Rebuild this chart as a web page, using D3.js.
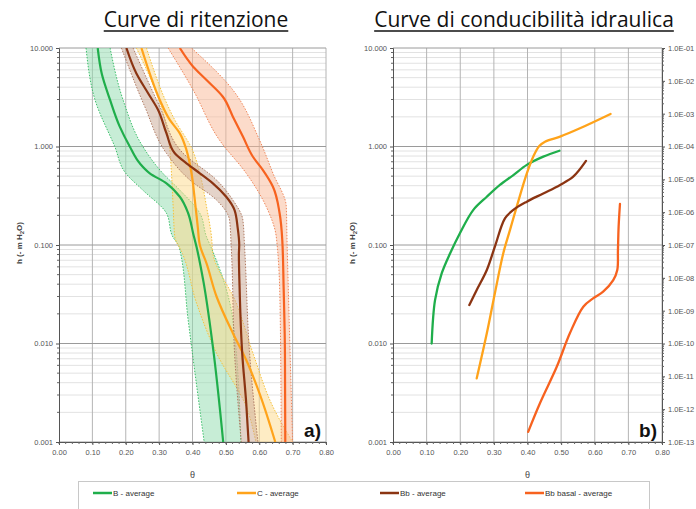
<!DOCTYPE html>
<html><head><meta charset="utf-8">
<script src="https://cdn.jsdelivr.net/npm/d3@7/dist/d3.min.js"></script>
<style>body{margin:0;background:#fff}svg{display:block}</style>
</head><body><svg id="c" width="696" height="509"></svg>
<script>
// ---------- data ----------
const titles = ["Curve di ritenzione", "Curve di conducibilità idraulica"];
const seriesNames = ["B - average", "C - average", "Bb - average", "Bb basal - average"];
const colors = ["#1fae4b", "#ffa31a", "#8b3412", "#f7621f"];
const bandFills = ["#8fdcae", "#fdd98a", "#c9a894", "#f9b896"];
const bandLines = ["#3cbf6a", "#f5c23c", "#b07a62", "#f0875a"];
const xTicks = [0, 0.1, 0.2, 0.3, 0.4, 0.5, 0.6, 0.7, 0.8];
const hTicks = [10, 1, 0.1, 0.01, 0.001];
const hTickLabels = ["10.000", "1.000", "0.100", "0.010", "0.001"];
const kTicks = [1e-1,1e-2,1e-3,1e-4,1e-5,1e-6,1e-7,1e-8,1e-9,1e-10,1e-11,1e-12,1e-13];
const kTickLabels = ["1.0E-01","1.0E-02","1.0E-03","1.0E-04","1.0E-05","1.0E-06","1.0E-07","1.0E-08","1.0E-09","1.0E-10","1.0E-11","1.0E-12","1.0E-13"];

// retention means (theta, h)
const retB_theta = [0.116,0.128,0.153,0.182,0.212,0.242,0.272,0.322,0.362,0.387,0.402,0.412,0.432,0.461,0.492];
const retB_h     = [10,5.5,2.97,1.59,1.0,0.675,0.535,0.423,0.309,0.21,0.131,0.096,0.044,0.0093,0.001];
const retC_theta = [0.247,0.272,0.302,0.332,0.362,0.382,0.397,0.407,0.416,0.422,0.442,0.472,0.521,0.561,0.601,0.648];
const retC_h     = [10,5.5,2.97,1.86,1.36,0.92,0.535,0.286,0.15,0.1,0.065,0.030,0.0127,0.0068,0.0031,0.001];
const retBb_theta = [0.202,0.232,0.267,0.297,0.322,0.347,0.382,0.422,0.461,0.501,0.526,0.535,0.540,0.539,0.541,0.549,0.561,0.568];
const retBb_h     = [10,5.5,3.47,2.35,1.36,0.853,0.675,0.535,0.423,0.309,0.226,0.153,0.1,0.08,0.0378,0.0079,0.00247,0.001];
const retBbb_theta = [0.362,0.402,0.442,0.491,0.521,0.551,0.581,0.611,0.641,0.661,0.669,0.673,0.677,0.678];
const retBbb_h     = [10,6.46,4.73,3.2,2.01,1.26,0.787,0.577,0.391,0.21,0.112,0.0378,0.0079,0.001];

// retention bands (h, low theta, high theta)
const bandB_h  = [10,2.97,1.0,0.535,0.361,0.21,0.121,0.096,0.0173,0.001];
const bandB_lo = [0.081,0.108,0.167,0.20,0.251,0.322,0.341,0.36,0.387,0.435];
const bandB_hi = [0.153,0.192,0.251,0.311,0.362,0.422,0.442,0.455,0.521,0.545];
const bandC_h  = [10,1.86,0.92,0.535,0.245,0.121,0.082,0.0258,0.008,0.00228,0.001];
const bandC_lo = [0.232,0.317,0.332,0.337,0.342,0.347,0.37,0.412,0.472,0.561,0.59];
const bandC_hi = [0.262,0.347,0.40,0.422,0.442,0.457,0.461,0.531,0.581,0.641,0.70];
const bandBb_h  = [10,2.54,0.853,0.457,0.286,0.179,0.096,0.008,0.001];
const bandBb_lo = [0.187,0.257,0.322,0.392,0.472,0.511,0.516,0.526,0.546];
const bandBb_hi = [0.222,0.302,0.372,0.472,0.521,0.551,0.556,0.571,0.596];
const bandBbb_h  = [10,3.75,1.16,0.535,0.245,0.121,0.0277,0.001];
const bandBbb_lo = [0.327,0.402,0.481,0.561,0.621,0.651,0.662,0.666];
const bandBbb_hi = [0.397,0.521,0.601,0.641,0.681,0.683,0.688,0.70];

// conductivity (theta, log10 K)
const kB_theta = [0.115,0.125,0.145,0.170,0.199,0.239,0.279,0.318,0.358,0.398,0.447,0.495];
const kB_logK  = [-10.0,-8.68,-7.86,-7.25,-6.64,-5.93,-5.53,-5.17,-4.87,-4.56,-4.31,-4.13];
const kC_theta = [0.249,0.279,0.303,0.328,0.348,0.368,0.398,0.417,0.435,0.452,0.497,0.556,0.647];
const kC_logK  = [-11.06,-9.69,-8.47,-7.25,-6.54,-5.83,-4.82,-4.31,-3.985,-3.854,-3.70,-3.446,-3.01];
const kBb_theta = [0.227,0.249,0.279,0.303,0.333,0.358,0.398,0.447,0.497,0.536,0.574];
const kBb_logK  = [-8.83,-8.37,-7.76,-7.05,-6.19,-5.93,-5.68,-5.43,-5.17,-4.92,-4.44];
const kBbb_theta = [0.402,0.437,0.487,0.526,0.566,0.596,0.625,0.655,0.667,0.669,0.671,0.675];
const kBbb_logK  = [-12.69,-11.82,-10.71,-9.69,-8.88,-8.62,-8.42,-8.07,-7.76,-7.15,-6.44,-5.75];

// ---------- drawing ----------
const svg = d3.select("#c");
const yTop = 48, yBot = 442;
const panels = [{x0: 59, x1: 326, tx: 196, lx: 22}, {x0: 393, x1: 662, tx: 524, lx: 355}];
const font = "'Liberation Sans', Arial, sans-serif";

const yH = d3.scaleLog().domain([0.001, 10]).range([yBot, yTop]);
const yK = d3.scaleLog().domain([1e-13, 1e-1]).range([yBot, yTop]);

function drawFrame(p, i) {
  const x = d3.scaleLinear().domain([0, 0.8]).range([p.x0, p.x1]);
  const g = svg.append("g");
  const minors = [];
  for (let e = -3; e < 1; e++) for (let m = 2; m <= 9; m++) minors.push(m * Math.pow(10, e));
  g.selectAll(".mn").data(minors).join("line")
    .attr("x1", p.x0).attr("x2", p.x1).attr("y1", d => yH(d)).attr("y2", d => yH(d))
    .attr("stroke", "#e2e2e2").attr("stroke-width", 1);
  g.selectAll(".vg").data(xTicks.slice(1)).join("line")
    .attr("x1", d => x(d)).attr("x2", d => x(d)).attr("y1", yTop).attr("y2", yBot)
    .attr("stroke", "#b4b4b4").attr("stroke-width", 1);
  g.selectAll(".mj").data(hTicks).join("line")
    .attr("x1", p.x0).attr("x2", p.x1).attr("y1", d => yH(d)).attr("y2", d => yH(d))
    .attr("stroke", "#9a9a9a").attr("stroke-width", 1);
  const xAxis = d3.axisBottom(x).tickValues(xTicks).tickFormat(d3.format(".2f")).tickSize(3);
  const xa = g.append("g").attr("transform", `translate(0,${yBot})`).call(xAxis);
  const xMinor = d3.range(0, 81, 2).map(v => v / 100);
  xa.selectAll(".mt").data(xMinor).join("line").attr("x1", d => x(d)).attr("x2", d => x(d))
    .attr("y1", 0).attr("y2", 2).attr("stroke", "#666");
  const yAxis = d3.axisLeft(yH).tickValues(hTicks).tickFormat((d, j) => hTickLabels[j]).tickSize(3);
  const ya = g.append("g").attr("transform", `translate(${p.x0},0)`).call(yAxis);
  ya.selectAll(".mt").data(minors).join("line").attr("x1", -2).attr("x2", 0)
    .attr("y1", d => yH(d)).attr("y2", d => yH(d)).attr("stroke", "#666");
  [xa, ya].forEach(a => {
    a.select(".domain").attr("stroke", "#555");
    a.selectAll(".tick line").attr("stroke", "#555");
    a.selectAll("text").attr("fill", "#555").style("font-family", font).style("font-size", "7.5px");
  });
  xa.selectAll(".tick text").attr("dy", "0.9em");
  const yl = g.append("text").attr("transform", `translate(${p.lx},243) rotate(-90)`)
    .attr("text-anchor", "middle").style("font-family", font).style("font-size", "8px").style("font-weight", "bold").attr("fill", "#444");
  yl.append("tspan").text("h (- m H");
  yl.append("tspan").text("2").attr("dy", 2).style("font-size", "6px");
  yl.append("tspan").text("O)").attr("dy", -2);
  g.append("text").attr("x", (p.x0 + p.x1) / 2).attr("y", 478).attr("text-anchor", "middle")
    .style("font-family", font).style("font-size", "9px").attr("fill", "#444").text("θ");
  const t = g.append("text").attr("x", p.tx).attr("y", 27).attr("text-anchor", "middle")
    .style("font-family", "'Open Sans', sans-serif").style("font-size", "21px").attr("fill", "#111").text(titles[i]);
  const bb = t.node().getBBox();
  g.append("line").attr("x1", bb.x).attr("x2", bb.x + bb.width).attr("y1", 31).attr("y2", 31)
    .attr("stroke", "#111").attr("stroke-width", 1.6);
  g.append("text").attr("x", p.x1 - 5).attr("y", 437).attr("text-anchor", "end")
    .style("font-family", font).style("font-size", "19px").style("font-weight", "bold").attr("fill", "#111")
    .text(i === 0 ? "a)" : "b)");
  return x;
}

const xL = drawFrame(panels[0], 0);
const xR = drawFrame(panels[1], 1);

const kAxis = d3.axisRight(yK).tickValues(kTicks).tickFormat((d, j) => kTickLabels[j]).tickSize(3);
const ka = svg.append("g").attr("transform", `translate(${panels[1].x1},0)`).call(kAxis);
const kMinor = [];
for (let e = -13; e < -1; e++) for (let m = 2; m <= 9; m++) kMinor.push(m * Math.pow(10, e));
ka.selectAll(".mt").data(kMinor).join("line").attr("x1", 0).attr("x2", 2)
  .attr("y1", d => yK(d)).attr("y2", d => yK(d)).attr("stroke", "#666");
ka.select(".domain").attr("stroke", "#555");
ka.selectAll(".tick line").attr("stroke", "#555");
ka.selectAll("text").attr("fill", "#555").style("font-family", font).style("font-size", "7.5px");

const bands = [[bandB_h, bandB_lo, bandB_hi], [bandC_h, bandC_lo, bandC_hi], [bandBb_h, bandBb_lo, bandBb_hi], [bandBbb_h, bandBbb_lo, bandBbb_hi]];
svg.append("clipPath").attr("id", "clipL").append("rect")
  .attr("x", panels[0].x0).attr("y", yTop).attr("width", panels[0].x1 - panels[0].x0).attr("height", yBot - yTop);
const gb = svg.append("g").attr("clip-path", "url(#clipL)");
bands.forEach((b, i) => {
  const pts = b[0].map((h, j) => ({h, lo: b[1][j], hi: b[2][j]}));
  const area = d3.area().y(d => yH(d.h)).x0(d => xL(d.lo)).x1(d => xL(d.hi)).curve(d3.curveMonotoneY);
  gb.append("path").datum(pts).attr("d", area).attr("fill", bandFills[i]).attr("fill-opacity", 0.5);
  ["lo", "hi"].forEach(k => {
    gb.append("path").datum(pts)
      .attr("d", d3.line().y(d => yH(d.h)).x(d => xL(d[k])).curve(d3.curveMonotoneY))
      .attr("fill", "none").attr("stroke", bandLines[i]).attr("stroke-width", 1).attr("stroke-dasharray", "1.5,1.5");
  });
});
const rets = [[retB_theta, retB_h], [retC_theta, retC_h], [retBb_theta, retBb_h], [retBbb_theta, retBbb_h]];
rets.forEach((r, i) => {
  const pts = r[0].map((t, j) => ({t, h: r[1][j]}));
  gb.append("path").datum(pts)
    .attr("d", d3.line().y(d => yH(d.h)).x(d => xL(d.t)).curve(d3.curveMonotoneY))
    .attr("fill", "none").attr("stroke", colors[i]).attr("stroke-width", 2.2);
});
const ks = [[kB_theta, kB_logK], [kC_theta, kC_logK], [kBb_theta, kBb_logK], [kBbb_theta, kBbb_logK]];
ks.forEach((r, i) => {
  const pts = r[0].map((t, j) => ({t, k: Math.pow(10, r[1][j])}));
  svg.append("path").datum(pts)
    .attr("d", d3.line().x(d => xR(d.t)).y(d => yK(d.k)).curve(d3.curveCatmullRom))
    .attr("fill", "none").attr("stroke", colors[i]).attr("stroke-width", 2.3).attr("stroke-linecap", "round");
});

const lg = svg.append("g");
lg.append("rect").attr("x", 78.5).attr("y", 481.5).attr("width", 571).attr("height", 30)
  .attr("fill", "#fff").attr("stroke", "#c8c8c8");
const legX = [93, 237, 380, 525];
seriesNames.forEach((n, i) => {
  lg.append("line").attr("x1", legX[i]).attr("x2", legX[i] + 19).attr("y1", 493).attr("y2", 493)
    .attr("stroke", colors[i]).attr("stroke-width", 2.5);
  lg.append("text").attr("x", legX[i] + 20).attr("y", 496).style("font-family", font).style("font-size", "8px")
    .attr("fill", "#333").text(n);
});
</script></body></html>
